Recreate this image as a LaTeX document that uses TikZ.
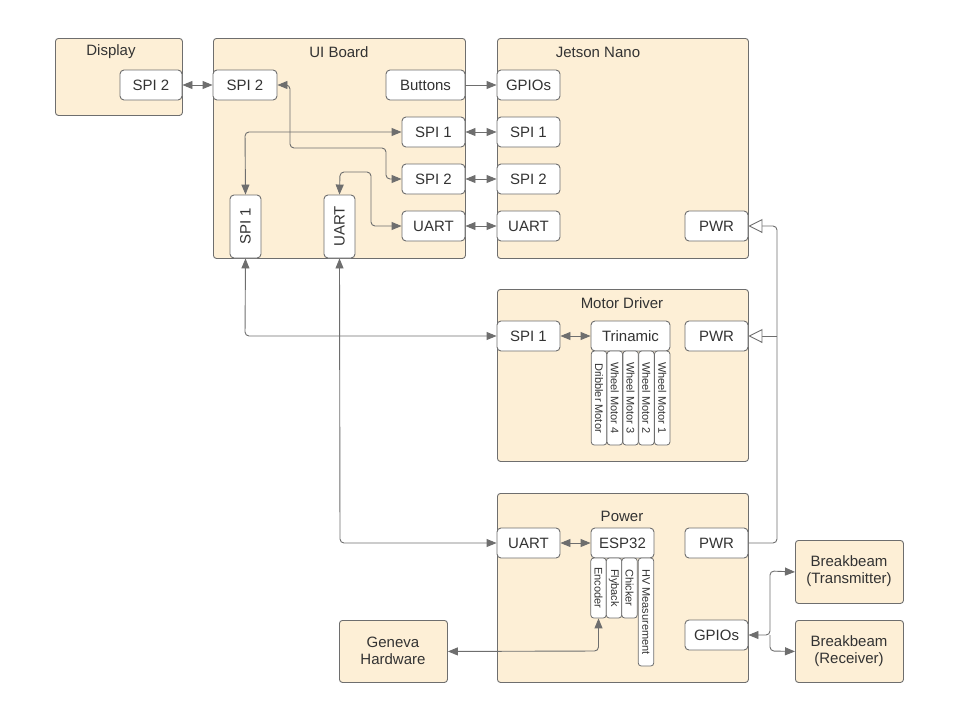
\documentclass[tikz,border=0pt]{standalone}
\usepackage{fontspec}
\setmainfont{Liberation Sans}
\usetikzlibrary{arrows.meta}
\definecolor{boardfill}{HTML}{FDEFD6}
\definecolor{linec}{HTML}{6E6E6E}
\definecolor{textc}{HTML}{333333}
\tikzset{
  board/.style={draw=linec, fill=boardfill, rounded corners=3pt, line width=0.9pt, anchor=north west, inner sep=0pt},
  port/.style={draw=linec, fill=white, rounded corners=4pt, line width=0.9pt, minimum width=63pt, minimum height=30pt, inner sep=0pt, text=textc, font=\fontsize{15}{17}\selectfont},
  strip/.style={draw=linec, fill=white, rounded corners=3pt, line width=0.8pt, rotate=-90, minimum height=15.5pt, inner sep=0pt, text=textc, font=\fontsize{11}{12}\selectfont},
  ttl/.style={text=textc, font=\fontsize{15}{17}\selectfont},
  link/.style={draw=linec, line width=0.9pt, rounded corners=4pt, >={Stealth[length=10pt,width=8pt,inset=0pt]}},
  pwrlink/.style={draw=linec, line width=0.9pt, rounded corners=4pt, -{Triangle[open,length=14pt,width=14pt,fill=white]}}
}
\begin{document}
\begin{tikzpicture}[x=1pt, y=-1pt]
\useasboundingbox (0,0) rectangle (953,726);
% boards
\node (disp)[board, minimum width=127pt, minimum height=77pt] at (55,38) {};
\node (ui)[board, minimum width=252pt, minimum height=220pt] at (213,38) {};
\node (jet)[board, minimum width=251pt, minimum height=220pt] at (497,38) {};
\node (mot)[board, minimum width=251pt, minimum height=172pt] at (497,289) {};
\node (pow)[board, minimum width=251pt, minimum height=189pt] at (497,493) {};
\node (bbT)[board, minimum width=108pt, minimum height=63pt] at (795,540) {};
\node (bbR)[board, minimum width=108pt, minimum height=62pt] at (795,620) {};
\node (gen)[board, minimum width=108pt, minimum height=62pt] at (339,620) {};
\node [ttl] at (111,52) {Display};
\node [ttl] at (339,52) {UI Board};
\node [ttl] at (598,52) {Jetson Nano};
\node [ttl] at (622,303) {Motor Driver};
\node [ttl] at (622,516) {Power};
\node [ttl, align=center] at (849,571) {Breakbeam\\(Transmitter)};
\node [ttl, align=center] at (849,651) {Breakbeam\\(Receiver)};
\node [ttl, align=center] at (393,651) {Geneva\\Hardware};
% ports
\node (dS2)[port, minimum width=62pt] at (151,85) {SPI 2};
\node (uS2a)[port, minimum width=64pt] at (245,85) {SPI 2};
\node (uBtn)[port, minimum width=79pt] at (425.5,85) {Buttons};
\node (uS1)[port] at (433.5,132) {SPI 1};
\node (uS2)[port] at (433.5,179) {SPI 2};
\node (uU)[port] at (433.5,226) {UART};
\node (uS1v)[port, rotate=90, minimum height=31pt] at (245.5,226.5) {SPI 1};
\node (uUv)[port, rotate=90, minimum height=31pt] at (339.5,226.5) {UART};
\node (jG)[port] at (528.5,85) {GPIOs};
\node (jS1)[port] at (528.5,132) {SPI 1};
\node (jS2)[port] at (528.5,179) {SPI 2};
\node (jU)[port] at (528.5,226) {UART};
\node (jP)[port] at (716.5,226) {PWR};
\node (mS1)[port] at (528.5,336) {SPI 1};
\node (mTri)[port, minimum width=79pt] at (630.5,336) {Trinamic};
\node (mP)[port] at (716.5,336) {PWR};
\node (pU)[port] at (528.5,543) {UART};
\node (pEsp)[port] at (622.5,543) {ESP32};
\node (pP)[port] at (716.5,543) {PWR};
\node (pG)[port] at (716.5,635) {GPIOs};
% strips
\node (mDr)[strip, minimum width=94pt] at (599,398) {Dribbler Motor};
\node (mW4)[strip, minimum width=94pt] at (614.8,398) {Wheel Motor 4};
\node (mW3)[strip, minimum width=94pt] at (630.6,398) {Wheel Motor 3};
\node (mW2)[strip, minimum width=94pt] at (646.4,398) {Wheel Motor 2};
\node (mW1)[strip, minimum width=94pt] at (662.2,398) {Wheel Motor 1};
\node (pEnc)[strip, minimum width=60pt] at (598.5,588) {Encoder};
\node (pFly)[strip, minimum width=60pt] at (614,588) {Flyback};
\node (pChk)[strip, minimum width=60pt] at (629.5,588) {Chicker};
\node (pHV)[strip, minimum width=108pt] at (646,612) {HV Measurement};
% connections
\draw[link, <->] (dS2) -- (uS2a);
\draw[link, ->] (uBtn) -- (jG);
\draw[link, <->] (uS1) -- (jS1);
\draw[link, <->] (uS2) -- (jS2);
\draw[link, <->] (uU) -- (jU);
\draw[link, <->] (uS2a.east) -- (290,85) -- (290,148) -- (386,148) -- (386,179) -- (uS2.west);
\draw[link, <->] (uS1.west) -- (245,132) -- (uS1v.east);
\draw[link, <->] (uU.west) -- (371,226) -- (371,172) -- (340,172) -- (uUv.east);
\draw[link, <->] (uS1v.west) -- (245,336) -- (mS1.west);
\draw[link, <->] (uUv.west) -- (340,543) -- (pU.west);
\draw[link, <->] (mS1) -- (mTri);
\draw[link, <->] (pU) -- (pEsp);
\draw[pwrlink] (pP.east) -- (777,543) -- (777,226) -- (jP.east);
\draw[pwrlink] (777,336) -- (mP.east);
\draw[link, <->] (pG.east) -- (770,635) -- (770,571) -- (bbT.west);
\draw[link, ->] (770,635) -- (770,651) -- (bbR.west);
\draw[link, <->] (gen.east) -- (598.5,651) -- (pEnc.east);
\end{tikzpicture}
\end{document}
